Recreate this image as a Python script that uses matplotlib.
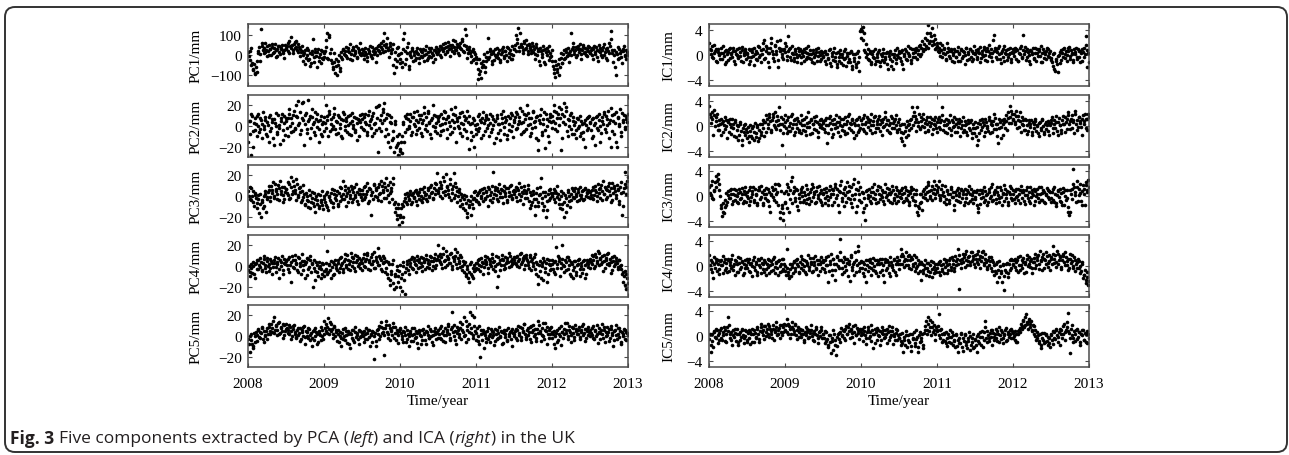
import numpy as np
import matplotlib
matplotlib.use("Agg")
import matplotlib.pyplot as plt
from matplotlib.patches import FancyBboxPatch
from matplotlib.transforms import IdentityTransform

# values, two interleaved samples per step (60 steps per year, 2008-2013)
pc1 = [15, -25, 35, -40, -70, -95, -60, -85, 20, -30, 130, 45, 10, 60, 25, -5, 50, 30, 0, 40, 15, 55, -10, 30, 45, 5, 35, 20, -15, 50,
       30, 60, 10, 45, 90, 25, 55, 35, 70, 15, 40, -5, 20, -30, 10, -45, 0, 25, -20, -55, 5, 80, -35, 15, -60, 30, -10, -40, 20, -20,
       -10, 40, 110, -20, 90, 30, -40, -70, 10, -55, -100, -30, -80, 15, -20, 25, 0, 40, -15, 20, 55, 5, -25, 30, 10, 45, -10, 25, 60, 0,
       10, -20, 35, 5, -30, 20, 45, 0, -15, 30, 15, -35, 25, 50, 10, 40, 70, 110, 20, 55, 35, -10, 60, 25, -50, -90, 15, -30, 40, 5,
       -20, -60, 30, 110, -45, 10, 60, -70, 0, 25, -30, 15, -15, 35, 5, -40, 20, -10, 30, 0, 45, -25, 15, -5, 35, 10, -35, 25, 40, 5,
       15, 45, -10, 30, 55, 5, 40, 20, 65, -5, 35, 50, 10, 70, 25, 40, 0, 60, 30, 80, 15, 130, 45, -15, 25, 10, -35, 30, -20, 5,
       -40, -120, -20, -80, -115, -50, 5, -60, -30, 85, -10, 20, -45, 10, -25, 30, 0, -15, 25, -35, 15, 40, -5, 20, -30, 35, 10, -20, 45, 0,
       30, 100, 60, 135, 20, 55, 40, 10, 70, 35, 50, 5, 45, 25, 60, 15, -20, 40, 0, 30, -50, 20, -10, 45, -45, 15, 35, -25, 10, -5,
       -30, -70, -110, -50, -85, -20, -60, 10, -40, 25, -15, 30, 0, -35, 20, 110, 40, 5, 25, -10, 45, 15, 30, -20, 50, 10, 35, -5, 20, 40,
       10, 35, -20, 45, 5, 25, -30, 50, 15, -10, 40, 0, 30, -25, 20, 60, 120, 10, -35, 25, -100, 5, 40, -15, 20, -40, 30, 0, -20, 15]
pc1b = [-5, 20, -50, -75, -45, -90, -30, 10, 40, 5, 60, 25, 35, 15, 45, 20, 0, 30, 55, 10, 35, 25, -5, 45, 15, 30, 50, 10, 25, 35,
        45, 20, 70, 35, 50, 10, 65, 40, 25, 55, 30, 15, 45, 0, 25, -15, 35, -25, 10, -40, 20, -10, 30, -5, 15, -30, 5, 25, -15, 10,
        20, 75, -15, 100, 10, -25, -60, -35, -90, -20, -50, 0, -65, -10, 30, 5, 20, -5, 35, 15, -20, 25, 40, 0, 20, -15, 35, 15, 5, 30,
        25, 0, 15, -10, 30, 10, -5, 40, 20, 5, 35, 0, 45, 20, 60, 30, 15, 50, 40, 85, 25, 45, 10, 30, 55, -20, -60, 35, 0, -40,
        10, -35, 80, 20, -20, 40, -55, 15, -10, 35, 0, -25, 20, 10, -15, 30, -5, 15, -30, 25, 5, -15, 35, 20, -10, 0, 25, -20, 15, 30,
        25, 0, 40, 20, 35, 60, 15, 45, 30, 50, 20, 75, 40, 25, 55, 10, 45, 35, 70, 20, 50, 100, 30, 10, 40, -5, 20, -25, 15, -10,
        -20, -70, -95, -40, -60, -30, -85, -10, 15, -20, 30, 5, -30, 20, 0, -10, 35, 10, -25, 5, 30, -15, 20, 0, 40, -10, 25, 5, -20, 30,
        50, 20, 80, 40, 110, 45, 25, 60, 30, 75, 20, 55, 35, 10, 45, 30, 5, 55, 20, -30, 35, 5, 25, -35, 30, 0, 20, 45, -10, 25,
        -55, -90, -30, -70, -45, -100, -15, -40, 5, -20, 15, -5, 35, 10, 0, 30, 60, 20, 40, 0, 30, 55, 5, 25, 40, 15, 0, 30, 45, 10,
        25, 0, 30, 15, 40, -10, 20, 35, 0, 25, 55, 15, -15, 35, 10, 45, 80, 25, 0, -60, 15, -20, 30, 10, -10, 20, 45, -5, 25, 0]

pc2 = [-15, 5, -28, 10, -5, 8, 2, -10, 12, -3, 6, -12, 0, 9, -8, 4, -15, 11, -2, 7, -18, 3, 13, -6, 1, -17, 8, -4, 10, -9,
       5, -10, 12, 0, 8, -5, 15, -2, 10, 24, 3, -8, 22, 6, -18, 11, -3, 25, 7, -12, 9, 2, -6, 14, -1, 5, -15, 10, -10, 4,
       -5, 20, 6, -10, 12, 2, -3, 9, 17, -8, 4, 11, -2, 7, -12, 14, 0, 5, -6, 10, 3, -9, 13, 1, -4, 8, -14, 6, 11, -1,
       7, -4, 12, 2, -9, 15, 5, -2, 10, -7, 3, 18, -25, 20, 6, -5, 14, 22, -10, 8, -15, 11, -20, 3, -12, -25, 5, -18, -28, -8,
       -22, -10, 4, -15, 10, -3, 7, 0, 12, -6, 9, 2, -8, 15, 4, -2, 11, -10, 6, 18, 1, -5, 13, 3, -12, 8, 20, -1, 10, -7,
       5, -9, 12, 2, -4, 14, 7, -12, 9, 0, 16, -6, 4, 11, -15, 8, -2, 13, 3, -10, 10, 6, -5, 15, -22, 2, -14, 8, -20, 1,
       -8, 10, -2, 6, -12, 14, 3, -5, 9, 1, -10, 12, -3, 7, -16, 5, 11, -7, 2, -14, 8, 15, -1, 4, -9, 10, -4, 13, 0, -11,
       6, -3, 12, 2, 9, -8, 15, 4, -5, 11, 20, 1, -10, 8, -2, 14, 5, -12, 10, -23, 3, 16, -6, 7, -21, 12, 0, -15, 9, 4,
       10, 20, 3, 14, -5, 18, 8, -23, 12, 22, 2, 15, -10, 6, 11, -3, 9, -8, 4, -12, 7, 0, -10, 5, -6, 3, -20, 8, -2, 10,
       4, -12, 8, 1, -18, 10, -4, 6, -15, 9, 2, 12, -6, 7, 15, 3, -20, 11, 5, -8, 14, -20, 9, 2, -10, 13, 6, -3, 10, 4]
pc2b = [5, -8, 12, -20, 3, -4, 10, 0, -6, 8, 2, 14, -3, 6, -10, 1, 9, -5, 4, -12, 7, 0, -8, 11, -2, 5, 12, -14, 3, 8,
        -2, 8, 16, -6, 3, 11, -3, 20, 9, 1, 14, -4, 8, 23, 2, 13, -7, 5, 10, -2, 16, 4, -9, 7, 12, -3, 6, -8, 2, 9,
        3, -2, 10, 15, -5, 7, 0, 12, -3, 5, -7, 9, 2, -10, 6, 12, -4, 8, 1, -8, 11, 5, -2, 9, -6, 3, 7, -10, 4, 12,
        -3, 9, 4, -6, 11, 1, 7, -10, 13, 2, -4, 8, 19, -2, 11, 3, 16, 6, -3, 12, -8, 4, 9, -14, -5, 2, -20, -10, -16, -24,
        -15, -26, 2, -6, 8, 12, -2, 5, -9, 9, 14, 0, 6, -4, 11, 7, -7, 3, 13, -3, 9, 15, 4, -8, 6, 0, 11, -5, 3, 8,
        10, 1, -5, 8, 15, 3, -3, 10, 4, -8, 6, 12, -2, 18, 5, 0, 9, -7, 14, 2, -3, 8, -12, 4, 10, -6, 3, -10, 6, -3,
        2, -5, 12, 4, 8, -9, 6, 11, -2, 7, 3, -6, 10, 1, 5, -12, 8, 2, -4, 12, 3, -8, 9, 6, -13, 2, 8, -5, 11, 4,
        9, 14, -2, 5, 17, 3, -6, 12, 7, -3, 13, 8, 2, -7, 15, 4, -1, 9, -14, 6, 11, -9, 2, 14, -4, 7, -10, 5, 12, -2,
        5, 15, -3, 8, 12, 1, 16, -12, 4, 10, 18, -5, 7, 0, 13, -8, 5, 1, -4, 8, -2, 10, -7, 2, -13, 6, 1, -4, 9, 3,
        -4, 7, -10, 3, 9, -2, 12, 0, -7, 5, 14, -3, 10, 1, -12, 6, 17, -5, 12, 3, -15, 8, 0, 16, -6, 4, 11, -1, 7, 12]

pc3 = [5, -3, 8, 0, -6, 3, -2, -12, 1, -8, -20, -4, -10, 2, -15, -1, 6, -5, 10, 3, 0, 12, 5, -3, 8, 15, 2, -6, 9, 4,
       7, 1, 12, -2, 18, 5, 10, 3, 16, -1, 8, 4, -4, 11, 2, -8, 0, -5, 6, -12, -2, -7, 3, -15, -4, 2, -10, -6, 5, -13,
       -3, -9, 4, -14, -1, -6, 7, -11, 2, -4, 5, -8, 9, 0, -3, 15, 6, -10, 3, 8, -2, 10, -6, 4, 1, 12, -5, 7, 2, -1,
       6, -3, 10, 2, 13, -5, 7, -18, 4, 11, 0, 8, -4, 12, 3, 15, 6, -2, 9, 17, 1, -6, 14, 5, 17, -8, -15, -22, -12, -28,
       -18, -25, -10, -5, 2, -8, 0, -3, 5, -6, 3, -1, 6, -9, 1, 4, -4, 7, -2, 9, 2, -5, 8, 0, 11, 4, -3, 13, 6, 22,
       3, 14, 8, -2, 18, 5, 21, 10, 2, 12, -4, 7, 22, 1, 9, -6, 4, -10, 2, -8, -3, -14, 0, -20, -9, -5, -18, -12, -2, 5,
       -4, 3, -8, 6, 0, -5, 8, -2, 4, -10, 7, 1, -6, 23, 2, 9, -3, 5, 12, -1, 6, -7, 10, 3, -4, 8, 0, 11, -2, 5,
       2, 9, -5, 6, 13, 0, 4, -8, 10, 3, -2, 7, -12, 1, -6, 5, -18, -3, 8, -10, 2, 17, -7, -14, 4, -20, -5, 6, -2, 3,
       0, 7, -6, 3, 10, -3, -12, 5, -8, -20, 1, -15, 4, -5, -11, 2, 6, -2, 8, 0, 4, -4, 9, 1, 6, -3, 7, 3, -1, 5,
       4, -2, 9, 1, 6, -5, 12, 3, 8, -4, 15, 2, 7, -1, 10, 5, -6, 13, 3, 8, -2, 11, 6, -8, 14, -18, 4, 23, 9, 15]
pc3b = [0, 9, -4, 5, -10, 1, -7, -3, -16, 2, -6, -12, 0, 5, -3, 4, 10, -1, 6, 14, -2, 7, 2, 11, -4, 5, 9, 1, -3, 7,
        3, 14, -3, 9, 2, 15, 6, -4, 12, 1, 9, -6, 5, -1, -9, 3, -4, -11, 1, -6, 4, -10, -3, 0, -8, -12, 1, -4, -9, 0,
        -6, 2, -11, 0, -4, 3, -7, 6, -2, 1, -10, 3, -5, 8, 2, -3, 10, 0, -6, 5, 1, 7, -3, 9, -1, 4, -8, 2, 6, -4,
        2, 9, -1, 5, -7, 8, 1, 4, -3, 12, 6, -1, 9, 2, -5, 10, 4, 13, -2, 6, 11, 3, 8, -3, 12, -6, -12, -18, -8, -20,
        -12, -8, -20, -2, -6, 3, -4, 2, -8, 1, -2, 5, -5, 3, -3, 7, 0, -6, 4, 1, -3, 6, -1, 9, 3, -2, 8, 2, 12, 5,
        8, 0, 11, 4, 15, 1, 9, 6, -1, 16, 3, 10, -2, 13, 5, 0, 7, -4, -1, -12, 1, -7, -16, -4, -11, 0, -8, -3, 4, -5,
        1, -6, 4, -2, 7, 3, -3, 5, 0, 9, -4, 4, 10, -2, 6, 1, 8, -5, 3, 7, -1, 5, 0, 8, -6, 4, 10, 1, -3, 6,
        5, -1, 8, 2, -4, 9, 3, 6, -2, 5, 11, -5, 4, -9, 2, -3, -10, 3, -6, 1, 9, -2, 4, -10, 0, -14, 2, -4, 7, 0,
        3, -3, 5, -1, 2, -8, 0, -13, 3, -6, -2, -9, 6, 0, -4, 8, -1, 5, 2, -5, 7, 1, -2, 5, -4, 8, 0, 4, 6, -2,
        1, 6, -3, 10, 4, 0, 7, -2, 11, 5, 2, 9, -3, 6, 13, 1, 8, -4, 10, 5, 1, 7, -5, 9, 3, -10, 8, 12, 2, 18]

pc4 = [-4, -10, 2, -7, 0, -12, 3, -3, 6, -1, 4, -5, 7, 1, -6, 8, 2, -2, 5, -8, 3, 9, -1, 4, -12, 6, 0, -4, 7, 2,
       5, -3, 9, 1, -15, 6, -2, 11, 3, -6, 8, 0, 12, -4, 5, 2, -9, 7, -1, 10, 3, -20, 6, -5, 1, -10, 4, -3, -8, 2,
       -10, -3, 15, -6, 2, -12, -1, 4, -8, 1, -4, 6, -2, 9, 3, -6, 7, 1, 11, -3, 5, 13, 0, 8, -5, 4, 10, 2, -2, 6,
       3, 12, -1, 7, 13, 4, -4, 9, 2, 14, -2, 6, 17, 1, 8, -3, 10, 4, -6, 5, -12, 2, -18, -8, 6, -22, -10, 0, -15, -5,
       -20, -8, 4, -14, -27, 2, -4, 6, 0, 9, -3, 5, 1, 10, -2, 7, 3, -5, 8, 4, 11, -1, 6, 2, 9, -4, 5, 12, 1, 7,
       20, 4, 9, -2, 12, 6, 15, 1, 8, 3, 13, -3, 7, 10, 2, 14, 5, -1, 9, 0, -6, 4, -10, -3, -15, 2, -8, -12, 1, -4,
       -2, 6, 1, -5, 8, 3, -1, 10, 4, -7, 7, 2, 12, -3, 5, 0, -20, 9, 3, -4, 11, 6, 1, -2, 8, 4, 13, 0, 7, 3,
       6, 2, 10, 5, -1, 13, 4, 8, -3, 11, 6, 1, 9, -4, 7, 3, 12, -8, 2, -17, 5, -12, 0, 8, -6, 3, -15, 6, 1, -3,
       2, -6, 5, 18, -2, 8, -10, 3, 20, 0, 6, -4, 9, 1, -8, 4, -12, -1, 5, -6, 2, 7, -10, 0, -3, 6, -12, 3, -1, 5,
       7, 2, 10, -2, 12, 5, 15, 1, 8, 4, -5, 11, 6, 2, 13, 3, -7, 9, 5, 0, 8, 3, -3, 6, 1, -8, -15, -5, -22, -12]
pc4b = [0, -6, -2, 4, -8, 2, 6, -3, 1, 8, -4, 3, 10, -2, 5, 0, -5, 7, 3, -1, 6, -6, 2, 8, -3, 4, 10, -8, 3, 6,
        1, 7, -6, 4, 10, -1, 6, 2, -4, 9, 3, -8, 5, 1, -12, 4, 8, -3, 6, -6, 2, -2, -14, 4, -6, -2, 0, -12, 3, -5,
        -5, 3, -8, 1, -4, 5, -9, 2, 6, -2, 3, -6, 8, 1, -3, 5, 12, -1, 6, 2, -4, 9, 4, -2, 11, 6, 0, 8, 3, -4,
        8, 0, 5, 11, -3, 6, 2, 12, 5, -2, 9, 4, 1, 10, 6, -5, 3, 8, -2, -8, 4, -14, -5, 2, -16, -8, -20, -4, -10, 1,
        -12, -24, 0, -6, -2, 5, -8, 3, 7, -2, 8, 2, -6, 6, 4, -1, 9, 0, 5, -3, 7, 3, -2, 10, 5, 0, 8, -2, 6, 10,
        6, 12, 2, 17, 5, -1, 10, 7, 3, 12, 0, 9, 5, 16, -2, 8, 3, 11, -4, 5, 2, -8, 0, -12, -6, 4, -10, -2, -5, 3,
        3, -3, 7, 0, 4, -8, 6, 2, 9, -2, 5, 0, 8, 4, -5, 10, 2, -10, 6, 1, 7, -3, 9, 3, 5, -1, 10, 5, 2, 9,
        3, 9, 0, 7, 12, 2, 6, 10, 1, 8, 4, -2, 11, 5, 0, 9, -3, 4, -10, 1, -5, 3, -14, 5, -2, 7, -8, 2, -4, 6,
        -3, 4, -8, 2, 10, 5, -2, 7, 1, -6, 4, 9, -3, 6, -10, 2, -4, 5, -9, 1, 6, -3, 3, -7, 5, 1, -8, 6, 2, -2,
        4, 11, 6, 0, 9, 3, 13, 7, 2, 10, 5, -2, 8, 12, 1, 7, 4, -4, 10, 2, 5, -1, 6, 0, -3, -6, -10, -18, -8, -16]

pc5 = [-3, -15, 2, -8, -12, 0, 4, -5, 7, -2, 3, 8, -6, 1, 5, -3, 9, 2, 12, 4, 18, 6, 10, 1, 14, 3, 8, -2, 11, 5,
       12, 6, 2, 9, -3, 7, 11, 4, -1, 8, 3, -5, 6, 0, 10, -8, 4, -2, 7, 1, -10, 5, -4, 8, 2, -6, 3, 9, 0, -3,
       15, 5, 9, 17, 2, 12, 7, -2, 10, 4, -5, 6, 0, -10, 3, -3, 8, 1, -7, 5, -12, 2, 6, -4, 9, -1, 3, -8, 5, 0,
       4, -6, 2, 8, -3, 6, -10, 1, 5, -22, 3, -5, 7, 10, 0, 14, 4, -18, 8, 15, 2, 11, -4, 6, 13, -2, 9, 3, -7, 5,
       7, 0, -6, 4, 9, -3, 2, -10, 5, 1, -5, 8, -1, 3, -12, 6, 0, -4, 7, 2, -8, 4, 10, -2, 5, -6, 1, 8, -3, 3,
       6, -2, 10, 3, -5, 8, 1, 4, 12, -4, 7, 23, 0, 5, -8, 9, 2, 14, -3, 6, 18, 1, -6, 10, 4, 23, 8, -2, 18, 5,
       3, -5, 10, -20, 2, 6, -12, 4, -2, 8, 0, -6, 5, 1, -9, 7, -3, 3, 9, -1, 4, -7, 6, 2, -4, 8, 0, 5, -10, 3,
       2, 7, -4, 10, 3, -1, 8, 5, 12, -3, 6, 1, 9, -6, 4, 11, 2, -2, 7, 15, 3, -5, 8, 0, 13, 5, -8, 6, 2, 9,
       -2, 5, -12, 3, -6, 8, 0, -9, 4, 2, 13, 6, -3, 10, 4, 1, 8, -4, 11, 5, 2, 9, -1, 6, 12, 3, -5, 7, 1, 4,
       6, 1, 10, -3, 5, 2, -7, 8, 3, 12, -2, 6, 0, 9, 4, -5, 7, 1, -10, 5, 11, -3, 2, 8, -6, 4, 0, 6, -4, 3]
pc5b = [-8, 0, -4, -10, 3, -6, 1, 6, -1, 4, 9, -3, 5, 0, 8, 2, 12, 5, 8, 15, 3, 11, 6, 13, 2, 9, 5, 12, 1, 7,
        8, 3, 11, 5, 0, 10, 2, -2, 6, 1, 8, -3, 4, 9, -1, 5, 0, 8, -4, 3, -2, 6, 0, 4, -8, 5, 1, -4, 6, 2,
        8, 12, 3, 7, 14, 5, 2, 9, 0, 6, 2, -6, 4, -2, 7, 0, -4, 5, 2, -8, 3, -2, 6, -6, 4, 1, -3, 6, -1, 3,
        0, 5, -3, 3, 6, -1, 2, -6, 4, 0, -10, 6, 2, -3, 9, 3, 8, 1, 11, 4, -2, 8, 5, 1, 9, 3, -4, 6, 1, 8,
        3, -3, 5, 1, -6, 6, 0, 3, -5, 8, 2, -2, 5, -7, 4, 1, -8, 6, 3, -4, 5, 1, -2, 7, 0, -9, 5, 2, 4, -2,
        2, 8, -3, 5, 1, -6, 6, 10, 2, -2, 9, 4, 11, -4, 3, 6, -1, 8, 12, 4, 0, 15, 6, -3, 12, 3, 20, 1, 10, -4,
        8, 0, -8, 6, -4, 3, 1, -6, 5, -3, 2, 7, -1, 4, -5, 2, 6, -2, 0, 5, -8, 3, -1, 6, -5, 2, 4, -3, 7, 0,
        5, -2, 6, 1, 9, -4, 4, 12, 2, -1, 8, 4, -3, 10, 6, 0, 7, -5, 3, 11, 5, 1, 13, -3, 6, 9, 2, -2, 8, 4,
        2, -8, 0, 6, -4, 2, 10, 4, -2, 7, 3, 13, 0, 6, -6, 9, 3, -1, 7, 2, 6, -3, 4, 10, 1, 7, -2, 5, 9, 0,
        3, 8, -2, 6, 0, 11, 4, -3, 6, 2, 9, -6, 4, 1, 7, -2, 10, 3, -4, 6, 1, 8, -1, 5, -8, 2, 7, -3, 4, 1]

ic1 = [2.0, 0.8, 1.5, -0.5, 0.3, 1.0, -1.2, 0.5, 0.0, 1.2, -0.6, 0.4, -1.5, 0.8, 0.1, -0.8, 1.1, 0.3, -0.3, 0.7, -1.4, 0.2, 0.9, -0.5, 0.5, -1.0, 1.3, 0.0, 0.6, -0.7,
       0.4, -1.5, 0.8, -0.3, 1.0, -1.6, 0.2, 0.7, -0.8, 1.3, 0.0, -1.2, 0.9, 2.4, -0.5, 1.5, 0.3, -2.0, 1.1, 2.8, 0.1, -1.0, 1.6, 0.6, -2.0, 1.2, 2.5, 0.2, -0.6, 1.0,
       0.5, -0.8, 3.0, 0.9, -0.3, 1.4, 0.2, -1.0, 0.7, -0.4, 1.2, 0.0, -1.3, 0.6, -0.2, 1.0, -0.7, 0.4, 1.5, -0.5, 0.1, -1.1, 0.8, -0.3, 0.5, -0.9, 1.1, 0.0, -0.6, 0.3,
       -0.2, 0.6, -1.4, 0.2, -0.7, 0.9, -1.8, -0.1, 0.5, -1.0, 0.3, -2.0, -0.4, 0.8, -1.3, 0.1, -0.6, 1.0, -1.7, -0.2, 0.4, -1.1, 0.7, -2.2, -0.5, 0.2, -1.5, 0.6, -2.5, 3.8,
       4.2, 2.5, 3.5, 0.5, -0.3, 1.0, -0.8, 0.3, -1.2, 0.6, -0.5, -1.5, 0.2, -0.9, 0.8, -1.8, -0.2, 0.4, -1.2, -0.6, 0.5, -2.3, -0.1, 0.7, -1.0, -2.2, 0.2, -0.7, 1.2, -0.4,
       0.3, -1.0, 0.8, -2.3, -0.2, 0.6, -0.8, 1.5, 0.0, -1.3, 0.9, -0.4, 0.5, 1.2, -0.6, 0.8, 1.6, 0.2, 2.2, 1.0, 2.8, 1.5, 3.5, 4.9, 2.3, 3.0, 4.4, 1.8, 2.6, 1.2,
       1.5, 0.5, 2.0, 0.8, -0.3, 1.2, 0.2, -0.8, 2.0, 0.6, -0.5, 1.0, 0.0, -1.2, 0.7, -0.3, 1.3, 0.3, -0.9, 0.8, -0.2, 0.5, -1.4, 1.1, 0.1, -0.6, 0.9, -1.0, 0.4, 1.5,
       0.2, -0.7, 1.0, 0.4, -1.2, 0.7, -0.2, 1.3, 0.0, -0.9, 0.6, 1.6, -0.4, 0.3, 2.5, 3.3, 0.8, -0.6, 1.1, 0.2, -1.3, 0.7, -0.3, 1.4, 0.1, -0.8, 0.9, 0.4, -1.1, 0.5,
       0.3, 1.2, -0.6, 0.8, -1.0, 0.2, 1.5, -0.3, 3.3, 0.6, -0.8, 1.0, 0.0, -1.4, 0.7, 0.3, -0.5, 1.2, -0.9, 0.4, 0.9, -0.2, 1.4, -1.1, 0.5, 0.1, -0.7, 1.0, -0.4, 0.6,
       -0.5, -1.8, 0.3, -2.5, -1.0, -2.8, 0.0, -1.3, 0.8, -0.4, 1.1, 0.2, -0.9, 0.6, 1.3, -0.2, 0.4, -1.2, 0.9, 0.1, -0.6, 1.0, -0.3, 0.7, -1.0, 0.5, 1.2, 3.0, -2.0, 0.4]
ic1b = [1.0, 0.2, -0.4, 1.6, 0.6, -1.0, 0.9, 0.1, -0.6, 0.4, 1.4, -0.2, 0.7, -1.1, 0.5, 1.0, -0.5, 0.2, 1.2, -0.9, 0.6, 0.0, -0.4, 1.1, -0.2, 0.8, -1.2, 0.3, 1.0, 0.1,
        -0.4, 0.9, -1.0, 0.5, -0.2, 1.1, -0.7, 0.4, 1.5, -0.3, 0.8, 0.2, 1.9, -0.6, 0.7, 1.2, -1.2, 0.4, 2.0, 0.6, -0.5, 1.4, 0.1, 2.2, -0.8, 0.6, 1.0, -0.4, 0.8, 2.0,
        1.5, -0.2, 0.7, 1.2, -0.8, 0.4, -0.5, 0.9, 0.1, -1.1, 0.6, 1.0, -0.3, 0.3, -0.9, 0.5, 1.2, -0.4, 0.2, 0.8, -0.6, 0.4, -1.3, 0.0, 1.0, -0.2, 0.5, -1.0, 0.7, -0.4,
        0.5, -1.0, 0.1, -0.5, 0.8, -1.3, 0.3, -0.8, 1.2, -0.4, -1.5, 0.5, -0.9, 0.2, -0.3, -1.6, 0.7, -0.5, 0.3, -1.2, -0.6, 0.5, -1.8, 0.1, -1.0, -2.0, 0.4, -1.2, -0.4, 2.8,
        3.8, 4.5, 0.8, 1.8, 0.2, -0.6, 0.6, -1.4, 0.1, -0.3, 0.9, -1.0, -0.4, 0.5, -1.2, 0.2, -0.8, 0.9, -0.3, 0.3, -1.5, 0.4, -0.7, -1.8, 0.2, -0.4, 0.8, -1.3, 0.0, 0.6,
        -0.5, 0.5, -1.4, 0.2, 1.0, -0.7, 0.3, -0.2, 1.1, -0.8, 0.4, 1.0, -0.3, 0.8, 0.1, 1.4, -0.2, 1.1, 0.6, 1.8, 0.9, 2.4, 1.2, 2.0, 3.6, 1.6, 2.2, 3.2, 1.0, 2.0,
        0.6, 1.2, -0.2, 1.6, 0.4, 0.9, -0.6, 0.5, 1.1, -0.2, 0.7, -0.9, 0.4, 0.9, -0.4, 0.6, -1.0, 0.2, 1.0, -0.5, 0.7, 0.0, 1.2, -0.8, 0.5, 1.0, -0.3, 0.6, -0.6, 0.3,
        0.8, -0.3, 0.5, 1.3, -0.5, 0.2, 1.0, -0.8, 0.6, 1.1, -0.2, 0.4, 0.9, -1.0, 0.7, 1.2, -0.3, 0.5, 1.5, -0.7, 0.3, 1.0, -1.0, 0.4, 0.8, -0.4, 0.2, 1.2, -0.6, 0.9,
        -0.2, 0.7, 1.0, -0.9, 0.4, 1.2, -0.5, 0.8, 0.1, 1.3, -0.4, 0.5, -1.0, 0.8, 0.2, 1.1, -0.6, 0.3, 0.9, -0.2, 0.6, -1.2, 0.4, 1.0, -0.5, 0.7, 1.2, -0.2, 0.3, -0.8,
        -1.2, 0.2, -2.2, -0.6, -1.5, -0.2, 0.5, -0.8, 0.3, 1.0, -0.5, 0.7, 0.0, 1.1, -0.6, 0.8, 0.2, -0.8, 0.5, 1.2, -0.3, 0.6, -1.2, 0.4, 0.9, -0.4, 0.2, 1.6, 0.8, -1.2]

ic2 = [3.2, 1.5, 2.2, -1.5, 1.8, 0.8, 2.0, 0.2, -0.6, 1.2, 0.5, -1.0, 1.5, 0.0, -2.0, 0.9, 0.3, -1.3, 1.1, -0.4, 0.6, -1.8, 0.2, -2.2, 0.4, -0.8, -3.0, 0.1, -1.5, -0.5,
       -1.0, -2.5, 0.2, -1.6, -0.4, -2.2, 0.5, -1.2, -0.2, -2.0, 0.3, -0.9, 1.0, -1.6, 0.6, 1.8, -0.3, 2.0, 0.8, -1.0, 1.4, 0.2, 2.2, -0.5, 1.0, 3.0, 0.4, -3.0, 1.2, 0.0,
       0.6, -1.2, 1.5, 0.0, -0.8, 2.0, 0.4, -1.4, 1.1, -0.3, 0.8, -1.0, 1.7, 0.2, -0.6, 1.2, -1.5, 0.5, 2.2, -0.2, 0.9, -1.1, 0.3, 1.4, -0.7, 0.6, -1.8, 1.0, 0.1, -0.4,
       0.8, -1.0, 1.3, -2.7, 0.2, 1.6, -0.5, 0.9, -1.3, 0.4, 1.8, -0.2, 0.7, -1.6, 1.1, 0.0, -0.8, 1.5, 0.3, -1.2, 2.0, 0.5, -0.6, 1.2, -2.0, 0.2, 0.9, -1.0, 1.4, -0.3,
       1.0, -0.5, 1.8, 0.3, -1.2, 1.2, 0.6, -0.7, 2.0, 0.1, 1.4, -1.0, 0.8, -0.3, 1.6, 0.4, -1.4, 1.1, 0.0, 2.2, -0.6, 0.9, 0.2, -1.1, 1.3, 0.5, -0.4, 1.7, -0.9, 0.7,
       -0.5, -2.0, 0.3, -1.2, -3.0, -0.2, 0.8, -1.5, 0.4, 1.2, 3.0, 0.2, 1.6, -0.8, 3.0, 0.6, -0.3, 1.4, 0.0, 2.0, -1.0, 0.9, 0.3, -0.6, 1.5, 0.5, -1.3, 1.0, 0.1, -0.4,
       0.7, 1.5, -0.5, 0.9, 3.0, 0.2, -1.0, 1.2, 0.4, -0.3, 1.8, -1.4, 0.6, 0.0, -0.9, 1.1, -0.2, 0.5, -1.6, 0.8, 1.4, -0.6, 0.2, -1.0, 1.0, -0.3, 0.6, -2.0, 0.3, -1.2,
       -0.4, -3.0, 0.5, -1.2, 1.0, -0.2, 0.7, -1.6, 1.2, 0.0, -0.8, 1.5, 0.3, -1.0, 0.8, 2.0, -0.5, 0.4, -2.7, 1.1, -0.2, 0.9, -1.5, 0.6, 1.8, -0.7, 1.3, 3.2, 0.5, 2.0,
       1.2, 0.3, 2.5, -0.4, 1.6, 0.8, -1.0, 1.4, 0.2, -0.6, 1.0, -1.3, 0.5, -0.2, 0.9, -1.5, 0.3, 1.2, -0.8, 0.0, -1.6, 0.6, -0.3, 1.1, -1.0, 0.4, -0.5, 0.8, -1.4, 0.2,
       0.5, -1.1, 1.0, -0.3, 0.7, -1.5, 1.3, 0.2, -0.6, 1.6, 0.4, -0.9, 1.1, 2.2, 0.3, -0.5, 1.8, 0.6, -1.2, 2.0, 0.9, -0.2, 1.4, 0.5, -1.4, 1.7, 0.8, -0.4, 1.2, 2.0]
ic2b = [2.0, 0.5, 1.2, 2.6, 0.0, 1.4, -0.6, 1.0, 0.4, -1.4, 0.8, 0.2, -0.5, 1.0, 0.6, -1.0, 1.2, -0.2, 0.4, -1.6, 0.9, -0.6, 0.0, -1.4, 0.6, -2.2, -0.4, -1.0, 0.3, -2.0,
        -0.2, -1.6, -0.8, -2.0, 0.0, -1.0, -1.8, 0.2, -2.4, -0.6, -1.4, 0.4, -0.4, 0.6, -1.0, 1.2, 0.3, 1.5, -0.6, 1.0, 2.0, -0.2, 0.8, 1.6, 0.2, -0.6, 1.5, 0.4, -1.2, 1.8,
        -0.3, 1.0, -0.8, 0.5, 1.6, -0.4, 0.9, -1.0, 0.3, 1.3, -0.6, 0.5, -1.2, 1.0, 0.1, -0.8, 1.4, -0.2, 0.6, -1.3, 1.2, 0.4, -0.5, 0.8, 1.6, -1.0, 0.3, -0.2, 1.1, 0.5,
        -0.5, 1.0, 0.2, -1.2, 1.3, 0.5, -1.8, 0.3, 1.1, -0.4, 0.6, -1.0, 1.5, 0.2, -0.6, 1.2, 0.4, -1.3, 0.8, 1.6, -0.4, 0.3, 1.0, -0.9, 0.5, -1.5, 1.2, 0.2, -0.7, 0.9,
        0.4, 1.3, -0.8, 0.6, 1.5, -0.2, 1.0, 0.2, -1.2, 0.8, 1.6, -0.4, 0.4, 1.2, -0.8, 1.0, 0.6, -0.2, 1.4, 0.3, 1.0, -1.0, 0.5, 1.6, -0.3, 0.8, 1.2, 0.2, -0.6, 1.1,
        0.2, -1.0, -2.4, 0.4, -0.8, -1.8, 0.2, -0.6, 1.0, -0.3, 1.6, 2.2, 0.6, 1.2, 0.0, 2.0, -0.5, 0.8, 1.2, -0.2, 0.5, 1.4, -0.8, 0.6, 0.0, 1.2, -0.5, 0.4, 1.4, -0.9,
        1.2, -0.2, 0.6, 1.8, -0.6, 0.8, 0.2, -1.2, 1.0, 0.6, -0.6, 0.9, -0.2, 1.4, 0.4, -1.0, 0.6, 1.2, -0.4, 0.2, -1.0, 0.8, 0.4, -1.4, 0.5, -0.6, 1.0, -1.2, -0.4, 0.6,
        -1.6, -0.2, -2.2, 0.4, -0.6, 1.2, 0.2, -1.0, 0.6, -0.4, 1.0, -1.2, 0.8, 0.2, -0.5, 1.3, 0.4, -1.6, -0.4, 0.6, -2.0, 0.3, 1.2, -0.4, 0.8, 2.2, 0.5, 1.5, 2.5, 1.0,
        2.0, 0.6, 1.6, 1.0, -0.2, 2.2, 0.4, 0.9, -0.6, 1.2, 0.2, -0.8, 1.0, 0.4, -1.0, 0.6, -0.4, 0.8, 0.2, -1.2, 0.5, -0.6, 0.9, 0.0, -1.3, 0.7, 0.2, -0.8, 0.5, 1.0,
        1.4, -0.3, 0.4, 1.6, -0.8, 0.6, 0.2, -1.2, 1.0, 0.3, 1.5, 0.6, -0.5, 1.8, 0.8, 1.2, -0.3, 1.0, 2.4, 0.3, -0.6, 1.5, 0.8, -0.2, 1.1, 0.4, 2.0, 1.2, -0.6, 1.4]

ic3 = [1.5, 0.2, 2.5, -0.5, 1.0, 3.2, 2.5, 3.5, 2.0, -1.5, -3.2, -2.5, -1.8, 0.5, -1.0, 0.8, -0.3, 1.2, -1.3, 0.4, -0.6, 1.0, 0.0, -1.2, 0.7, -0.4, 1.3, -0.8, 0.3, -1.0,
       0.6, -1.4, 1.5, -0.2, 0.8, -1.0, 1.2, 0.1, -1.5, 0.9, -0.5, 1.6, -1.1, 0.4, -0.3, 1.3, -0.8, 0.7, -2.6, 0.2, 1.0, -0.6, 2.0, 0.3, -1.5, 1.8, -3.5, -2.0, -3.8, 0.5,
       -1.2, 2.0, 0.3, -2.5, 1.0, 3.0, 0.5, 1.5, -0.8, 0.9, -2.2, -0.4, 1.2, 0.0, -1.0, 0.7, 1.8, -0.5, 0.4, -1.3, 1.1, 2.0, -0.2, 0.6, -0.9, 1.4, 0.2, -0.6, 1.0, -1.5,
       0.5, -1.1, 1.3, 0.0, -0.7, 1.6, 0.3, -1.4, 0.9, 2.0, -0.4, 1.1, -2.5, 0.6, 2.5, -0.8, 1.2, 0.2, -1.0, 2.2, 0.8, -0.5, 1.5, -1.8, 2.8, 0.3, -2.5, 1.0, -0.6, 1.4,
       -1.0, 0.5, -2.0, -3.8, 0.8, -0.3, 1.2, 0.0, -1.1, 0.7, 2.0, -0.5, 1.0, -0.9, 0.4, 1.5, -0.2, 0.6, -1.3, 1.9, 0.1, -0.7, 1.1, 0.3, -1.2, 0.9, -0.4, 1.4, 0.0, -0.8,
       0.8, -0.3, 1.3, -1.0, 0.5, 1.0, -0.6, 0.2, -1.4, 0.9, -0.2, 1.2, -0.8, 0.4, -2.5, -3.0, -1.2, 0.3, -2.2, 0.8, -0.4, 1.5, 0.6, 2.2, 0.0, 1.0, -0.7, 2.5, 0.4, 1.8,
       0.6, 2.5, -0.3, 1.2, 0.2, -0.9, 1.6, -0.5, 0.8, -1.2, 0.4, 1.1, -0.2, -2.2, 0.7, -0.6, 1.3, 0.0, -1.0, 0.9, 0.3, -1.4, 1.2, -0.4, 0.6, 1.6, -0.8, 0.2, -1.1, 0.8,
       -0.5, 1.0, -2.5, 0.3, -1.3, 0.9, -0.2, 1.5, -0.7, 0.4, -1.0, 1.2, 0.0, 2.0, -0.6, 0.7, -1.2, 1.4, 0.2, -0.4, 1.0, -1.5, 0.5, 1.8, -0.3, 0.8, -1.0, 0.3, 1.3, -0.6,
       0.4, -1.1, 1.2, 0.0, -0.7, 0.9, 1.6, -0.4, 0.6, -1.3, 1.0, 0.2, -0.8, 1.4, -0.2, 0.5, -1.5, 0.8, 0.0, 1.1, -0.9, 0.3, 1.5, -0.6, 0.7, -1.2, 0.2, 1.0, -0.5, 0.6,
       -0.3, 1.2, -1.0, 0.4, -1.6, 0.8, -0.2, 1.1, -1.0, 0.6, -1.5, 0.9, -0.3, -2.5, -3.0, 1.0, -0.5, 4.3, 1.5, 0.2, 2.5, -0.8, 1.2, 0.5, -1.4, 1.8, 0.3, 2.2, 1.0, 2.6]
ic3b = [0.5, 1.8, -0.4, 0.8, 2.2, 1.4, 2.8, 1.0, 0.0, -2.0, -1.2, -2.8, -0.6, -1.4, 0.2, -0.4, 1.0, 0.3, -0.8, 1.1, 0.2, -1.0, 0.5, 1.2, -0.5, 0.3, -1.2, 0.8, 1.4, 0.0,
        -0.4, 1.0, -0.8, 0.4, 1.4, -0.6, 0.3, -1.2, 0.9, 1.4, -0.2, 0.6, -1.4, 1.0, 0.3, -0.6, 1.2, -1.6, 0.4, 1.5, -0.2, 1.2, -1.0, 0.6, 2.0, -2.6, 0.8, -1.4, -2.8, -1.0,
        0.8, -2.0, 1.5, -0.5, 2.4, -1.2, 0.8, -0.4, 1.2, -1.6, 0.3, -0.9, 0.6, 1.4, -0.6, 0.2, -1.2, 1.2, -0.3, 0.6, -0.8, 1.5, 0.4, -1.1, 0.8, -0.3, 1.6, 0.5, -0.9, 0.4,
        1.2, -0.4, 0.6, -1.5, 0.9, -0.2, 1.2, 0.4, -0.9, 1.5, 0.2, -1.5, 0.8, 1.8, -0.3, 0.5, -1.6, 1.4, 0.6, -0.4, 1.6, -1.2, 0.2, 2.0, -0.5, 1.2, -1.6, 2.2, 0.4, -1.0,
        0.6, -2.6, -0.4, -1.5, 1.0, 0.2, -0.8, 0.6, 1.4, -0.3, 0.4, -1.2, 0.9, 1.6, -0.5, 0.2, 1.0, -0.8, 0.6, -0.2, 1.3, 0.5, -1.0, 0.7, 1.6, -0.6, 0.3, -1.2, 1.0, 0.5,
        -0.2, 1.0, 0.3, -0.8, 1.5, -0.4, 0.8, -1.0, 0.5, 1.4, -0.6, 0.3, -1.4, 1.0, -1.6, -2.0, 0.4, -1.0, -0.2, 1.2, 0.4, -0.6, 1.8, 0.8, -0.3, 1.6, 0.5, 1.2, -0.4, 1.0,
        1.4, 0.2, -0.6, 1.8, 0.6, 0.0, -1.3, 1.0, 0.3, -0.6, 1.4, -0.2, 0.6, -1.4, 0.2, 1.0, -0.8, 0.5, 1.2, -0.4, 0.8, -0.9, 0.3, 1.0, -1.2, 0.4, 1.2, -0.5, 0.6, -0.2,
        0.6, -1.4, -2.0, 1.0, -0.4, 0.5, -1.0, 0.8, 0.2, -1.4, 0.6, -0.3, 1.5, -0.8, 0.3, 1.0, -0.5, 0.6, -1.0, 1.4, -0.2, 0.4, -0.8, 1.1, 0.4, -1.4, 0.7, 1.6, -0.3, 0.9,
        -0.5, 0.8, -0.2, 1.2, 0.4, -1.2, 0.6, 1.0, -0.8, 0.2, 1.5, -0.4, 0.7, -1.1, 0.9, 0.1, 1.2, -0.8, 0.4, -0.3, 1.4, -0.6, 0.5, 1.0, -1.0, 0.3, 1.3, -0.2, 0.8, -0.9,
        0.6, -0.6, 1.5, -1.2, 0.2, 1.0, -0.8, 0.5, -1.4, 1.3, 0.0, -0.6, 0.9, -1.8, -2.6, 0.4, 1.2, 2.0, 0.6, -1.0, 1.5, 0.2, 2.0, -0.8, 0.8, 1.2, -1.5, 1.8, 0.6, 1.5]

ic4 = [1.8, -0.5, 0.6, -2.0, 0.3, 1.2, -0.8, 0.4, -1.3, 0.9, 0.1, 1.6, -0.6, 0.5, -1.0, 1.1, 0.2, -0.4, 1.8, 0.0, -1.5, 0.8, 0.3, -0.9, 1.3, -0.2, 0.6, -1.2, 1.0, 0.2,
       -0.3, 1.2, -1.0, 0.5, 0.0, 1.5, -0.7, 0.3, -1.4, 0.9, -0.2, 1.3, 0.4, -0.9, 0.7, -0.5, 1.1, -1.2, 0.2, 0.8, -0.6, 1.4, -0.1, 0.5, -1.5, 0.9, 0.0, -0.8, 1.2, 0.3,
       -0.8, 2.8, -1.5, -2.0, -0.5, 0.4, -1.2, 0.8, -0.3, 1.2, 0.0, -0.9, 1.6, 0.3, -0.6, 1.0, -1.3, 0.5, 1.8, -0.2, 0.7, -1.0, 1.3, 0.1, -0.5, 0.9, -1.4, 0.4, 1.5, -0.3,
       0.6, -1.0, 1.4, 0.2, -2.5, 0.8, 2.0, -0.6, 1.1, -2.2, 0.4, 1.6, -0.4, 4.3, 0.9, -1.3, 1.5, 0.0, -0.7, 1.2, 0.3, -2.4, 1.8, -0.2, 0.6, 2.3, -1.0, 3.2, 0.5, -0.3,
       0.8, -1.2, 0.3, -0.5, -2.5, 1.0, -0.2, 0.6, -1.4, 1.3, 0.0, -0.8, 0.9, -1.6, 0.4, 1.1, -0.6, 0.2, -2.5, 1.2, -0.3, 0.7, -1.1, 1.5, 0.1, -0.7, 0.9, -1.5, 1.4, 0.3,
       1.0, 2.8, 0.4, 1.6, -0.2, 2.2, 0.9, 0.1, 1.8, -0.5, 1.2, 0.4, -0.8, 1.5, 0.0, -1.2, 0.7, -2.2, 0.3, -0.6, 1.0, -1.4, -0.3, 0.5, -1.0, 0.8, -1.8, -0.2, 0.4, -0.9,
       -0.4, 0.6, -1.5, 0.2, -0.8, 1.2, -0.2, 0.7, -1.1, 0.4, 1.3, -0.6, 0.9, -0.3, 1.6, 0.2, 2.8, -3.7, 1.0, 0.5, 2.0, 1.4, -0.2, 2.5, 0.8, 1.6, 0.1, 2.2, 1.1, 0.4,
       1.8, 0.6, 2.5, 1.2, -0.3, 1.5, 2.4, 0.5, 1.9, -0.5, 1.0, 0.2, 1.4, -0.8, 0.6, -1.5, 0.3, -2.5, -0.6, 0.8, -1.2, -2.5, 0.2, -3.8, -1.0, 0.5, -1.8, 0.9, -0.4, 1.0,
       0.3, 1.2, -0.6, 0.9, -1.0, 1.6, 0.2, -0.4, 1.3, 0.6, -0.9, 1.8, 0.4, -0.2, 1.1, -1.2, 0.7, 2.0, 0.1, 1.4, -0.5, 2.5, 0.8, 1.5, -0.3, 1.0, 2.2, 0.5, 1.7, -0.6,
       1.2, 3.2, 0.5, 1.8, -0.2, 2.0, 0.9, 1.4, -0.5, 1.6, 0.6, 2.2, 0.2, 1.1, -0.4, 1.9, 0.8, 0.0, 1.5, -0.8, 0.6, 1.2, -0.3, -1.2, 0.4, -2.0, -1.5, -2.8, -1.0, -3.0]
ic4b = [0.2, 1.0, -1.0, 1.4, -0.3, 0.6, 1.0, -0.5, 0.8, 0.2, -1.1, 0.6, 1.2, -0.4, 0.9, -0.8, 0.6, 1.2, -0.6, 0.4, 1.0, -1.0, 1.4, 0.5, -0.5, 0.8, -1.4, 0.4, -0.3, 1.2,
        0.6, -0.8, 0.4, -1.6, 0.9, -0.2, 0.6, -1.0, 1.1, 0.2, -1.2, 0.5, -0.5, 0.9, -1.4, 0.4, -0.2, 1.0, -0.8, 0.4, 1.2, -1.2, 0.6, -0.4, 0.8, -0.9, 0.4, 1.1, -0.5, 0.0,
        -1.4, -0.3, -1.0, 0.4, -1.6, -0.2, 0.6, -0.8, 1.0, 0.3, -1.2, 0.6, -0.4, 1.2, 0.0, -1.0, 0.8, 0.2, -0.6, 1.3, 0.4, -0.8, 0.6, 1.6, -0.3, 0.4, 0.9, -0.8, 0.6, 1.0,
        -0.5, 0.9, 0.2, 1.6, -0.8, 0.3, -1.5, 1.2, 0.4, -0.6, 1.4, 0.0, 1.0, 2.2, -0.4, 0.6, -1.0, 1.1, 0.5, -1.6, 0.8, 1.4, -0.6, 0.4, -1.4, 1.0, 0.2, 2.4, -0.8, 0.6,
        -0.4, 0.6, -1.6, 1.0, 0.2, -0.8, 1.2, -0.4, 0.5, -0.6, 1.0, -1.2, 0.3, 0.8, -1.0, 0.5, 1.2, -1.4, 0.6, -0.6, 1.0, 0.2, -1.6, 0.6, -0.2, 1.2, -1.0, 0.4, 0.8, -0.5,
        0.4, 1.6, 2.0, 0.8, 1.2, 0.2, 1.6, -0.4, 0.9, 1.4, 0.0, 1.8, 0.5, -0.3, 1.0, 0.4, -0.8, 0.6, -1.2, 0.2, -0.4, 0.5, -0.8, -1.6, 0.2, -0.5, 0.6, -1.2, -0.6, 0.3,
        0.3, -1.0, 0.8, -0.5, 0.4, -1.2, 1.0, 0.1, -0.6, 0.9, -0.2, 1.5, 0.3, -0.8, 0.8, 1.2, 0.4, 1.8, -0.4, 1.2, 0.6, 2.0, 1.0, 0.2, 1.5, 0.6, 2.2, 0.8, 1.6, -0.2,
        1.2, 2.0, 0.4, 1.6, 0.8, 2.2, 0.2, 1.2, 0.6, -0.2, 1.5, 0.8, -0.4, 1.0, 0.2, -0.8, -1.2, 0.6, -1.8, 0.0, -0.8, 0.4, -1.6, -0.6, 0.3, -1.2, 0.4, -0.6, 1.2, 0.2,
        1.0, -0.2, 0.6, 1.4, 0.2, -0.6, 1.0, 0.7, -1.1, 0.4, 1.2, 0.0, 1.5, 0.8, -0.4, 0.6, 1.3, -0.3, 0.9, 1.8, 0.4, 1.0, -0.6, 2.0, 1.2, 0.3, 1.6, -0.2, 0.8, 1.4,
        0.4, 2.0, 1.2, 0.6, 2.4, 0.4, 1.6, -0.2, 1.0, 2.0, 0.2, 1.4, 0.8, -0.6, 1.2, 0.5, 1.8, -0.3, 0.9, 0.4, -0.4, 0.8, 0.0, -0.8, 0.6, -1.4, -0.6, -2.2, -1.8, -2.4]

ic5 = [-0.5, -2.5, 0.3, -1.8, 0.8, -0.4, 1.0, -1.2, 0.5, 1.3, -0.6, 0.2, 0.9, -1.0, 1.4, 3.0, -0.3, 0.6, -1.4, 0.1, 1.1, -0.8, 0.4, -1.5, 0.7, -0.2, 1.2, -1.1, 0.0, 0.8,
       -0.6, 0.9, -1.3, 0.3, 1.2, -0.9, 0.5, -0.2, 1.5, -1.0, 0.8, 2.0, 0.2, -0.5, 1.6, 0.6, 2.0, -0.2, 1.1, 0.4, 1.8, -0.6, 0.9, 2.2, 0.3, 1.3, -0.4, 1.7, 0.7, 2.0,
       1.0, 2.7, 0.3, 1.6, -0.3, 2.2, 1.2, 0.4, 2.0, -0.5, 1.4, 0.6, -0.2, 1.0, 0.3, -1.0, 1.5, 0.7, -0.4, 0.9, 1.8, 0.0, 0.5, -0.8, 1.2, 0.2, -1.2, 0.8, 1.4, -0.3,
       0.3, -1.2, 0.6, -0.5, -1.8, 0.2, -2.8, -0.8, 0.9, -1.5, -3.0, -0.2, 0.5, -1.0, 1.3, 0.1, 0.8, -0.6, 1.6, 0.3, 2.0, -0.4, 1.0, 0.5, -1.1, 1.8, 0.2, 0.9, -0.5, 1.2,
       0.6, -0.8, 1.5, 0.2, -1.3, 1.0, -0.3, 0.7, 1.8, -2.0, 0.4, 1.2, -0.6, 0.9, 0.0, -1.5, 1.4, 0.3, -0.4, 1.0, -1.1, 0.6, 1.6, -0.2, 0.8, -1.3, 0.4, 1.1, -0.7, 0.2,
       -0.3, -1.5, 0.5, -2.5, -0.6, 0.8, -1.8, 0.2, -1.0, -2.4, 0.4, -0.5, -1.6, 0.9, -0.2, -2.6, 0.6, -0.8, 0.3, -1.4, 1.0, 2.5, 0.4, 3.0, 1.5, 0.2, 2.2, 1.0, -0.6, 1.4,
       0.8, 3.5, -0.4, 1.2, -1.0, 0.3, -0.8, 0.6, -1.6, -0.2, 0.9, -1.2, 0.1, -0.6, -1.8, 0.4, -2.5, -0.3, -1.1, 0.5, -2.4, -0.8, 0.2, -1.5, -0.4, 0.7, -2.2, -1.0, 0.3, -1.7,
       -0.5, -2.6, 0.4, -1.2, -0.2, 0.8, -1.8, -0.6, 2.5, -1.0, 0.2, -0.4, 1.0, -1.4, 0.5, -0.2, 1.2, -0.8, 0.3, 1.5, -0.5, 0.7, -1.2, 0.1, 1.3, -0.6, 0.4, 1.0, -0.3, 0.8,
       0.5, -0.6, 0.3, -1.0, 0.8, 1.3, 2.0, 1.2, 2.6, 1.8, 3.6, 2.2, 2.8, 1.5, 2.4, 0.8, 1.6, 0.0, -0.6, 0.7, -1.2, 0.3, -2.0, -0.4, 0.5, -0.9, 0.2, -1.5, -0.3, -1.8,
       0.2, -1.3, 0.7, -0.5, 1.2, -0.2, 0.6, -1.5, 0.9, 0.3, 2.0, -0.6, 1.4, 3.7, 0.5, -2.8, 1.8, -0.3, 0.8, -0.8, 1.2, -0.2, 0.6, -1.5, 0.1, 0.9, -0.7, 0.4, -1.2, 0.3]
ic5b = [0.4, -1.4, -0.8, 0.6, -0.2, 1.2, 0.2, -0.6, 1.0, -0.3, 0.7, 1.4, -0.8, 0.4, 0.8, 1.8, 0.4, -0.6, 0.9, -0.2, 0.5, 1.2, -1.0, 0.3, -0.6, 0.9, 0.2, -0.4, 1.0, -0.9,
        0.5, -0.4, 0.7, -1.0, 0.4, 1.0, -0.3, 1.2, 0.4, -0.5, 1.4, 0.6, 1.0, 1.6, 0.0, 1.2, 0.4, 1.6, 0.8, -0.3, 1.2, 0.6, 1.5, 0.2, 1.0, 1.8, 0.6, 0.2, 1.4, 0.8,
        1.8, 0.6, 2.0, 1.2, 0.4, 1.5, 0.8, 1.8, 0.2, 1.0, -0.2, 1.2, 0.4, 0.9, -0.6, 0.6, 0.2, 1.2, -0.2, 0.5, 1.0, -0.6, 0.8, 0.3, 1.4, -0.4, 0.6, 0.0, 0.9, 0.4,
        -0.3, 0.8, -0.8, -1.4, 0.2, -1.0, -0.4, -2.2, 0.3, -0.6, -1.6, 0.4, -0.5, 0.6, 0.0, 1.0, -0.3, 1.2, 0.4, 1.5, 0.8, 1.2, -0.2, 1.6, 0.6, 0.2, 1.3, 0.5, 1.0, 0.2,
        1.2, 0.3, 0.8, -0.4, 0.6, 1.4, 0.0, -0.8, 0.9, 0.4, -1.2, 0.7, 1.3, 0.2, 0.8, -0.6, 0.5, 1.0, -0.2, 0.4, 1.2, -0.6, 0.8, 0.2, 1.4, 0.0, -0.6, 0.5, 0.9, -0.3,
        0.4, -0.8, -1.2, -0.2, -1.5, 0.2, -0.6, -1.0, 0.3, -1.6, -0.4, 0.6, -1.2, -0.5, -1.8, 0.2, -1.0, -0.3, -2.0, 0.5, 1.6, 1.0, 2.0, 0.8, 2.6, 1.4, 0.6, 1.8, 0.4, 0.9,
        1.6, 0.2, 1.0, 0.4, -0.6, 0.5, -1.2, -0.3, 0.4, -1.0, -0.2, 0.6, -1.4, -0.8, 0.2, -1.6, -0.6, -1.2, 0.3, -1.8, -0.4, 0.4, -1.0, -2.0, -0.8, 0.0, -1.4, -0.4, -2.0, -0.6,
        -1.4, 0.0, -0.8, 0.6, -1.5, -0.2, 0.6, 1.4, -0.4, 0.8, -0.8, 0.5, -0.2, 0.9, -0.6, 0.4, -0.3, 0.8, -1.0, 0.2, 0.9, -0.4, 0.4, 1.0, -0.8, 0.6, -0.2, 0.3, 1.2, -0.4,
        0.0, 0.8, -1.0, 0.4, 1.0, 0.6, 1.6, 2.4, 1.5, 3.0, 2.0, 1.2, 2.4, 2.0, 1.0, 1.8, 0.4, 1.0, -0.3, 0.2, -0.8, -1.4, 0.5, -0.6, -1.2, 0.3, -0.8, -0.2, -1.2, 0.4,
        -0.6, 0.8, -0.4, 1.0, 0.2, -1.0, 1.2, 0.4, -0.4, 1.6, 0.6, 1.0, 2.2, 0.8, -0.4, 1.2, 0.2, -1.0, 0.4, 0.9, -0.5, 0.6, -1.0, 0.3, 1.0, -0.6, 0.5, -1.0, 0.8, -0.4]

pc_labels = ["PC1/mm", "PC2/mm", "PC3/mm", "PC4/mm", "PC5/mm"]
ic_labels = ["IC1/mm", "IC2/mm", "IC3/mm", "IC4/mm", "IC5/mm"]
years = [2008, 2009, 2010, 2011, 2012, 2013]


def epochs(vals, offset):
    # regular sampling over 2008-2013
    m = len(vals)
    return 2008 + (np.arange(m) + offset) * 5.0 / m


W, H = 1289, 456
fig = plt.figure(figsize=(W / 100, H / 100), dpi=100)
serif = ["Liberation Serif", "DejaVu Serif"]
spine_col = "#4a4a4a"

tops = [25, 96, 166, 236, 306]
ph = 62


def make_panel(x0, top, vals, vals_b, label, ylim, yticks, bottom):
    ax = fig.add_axes([x0 / W, 1 - (top + ph) / H, 380 / W, ph / H])
    ax.plot(epochs(vals, 0.25), vals, 'o', ms=2.6, mew=0, color='black')
    ax.plot(epochs(vals_b, 0.75), vals_b, 'o', ms=2.6, mew=0, color='black')
    ax.set_xlim(2008, 2013)
    ax.set_ylim(*ylim)
    ax.set_xticks(years)
    ax.set_yticks(yticks)
    ax.tick_params(direction='in', top=True, right=True, length=3, width=0.8,
                   color=spine_col, labelsize=11)
    ax.tick_params(axis='y', pad=4.5)
    ax.tick_params(axis='x', pad=7)
    for s in ax.spines.values():
        s.set_color(spine_col)
        s.set_linewidth(1.1)
    for lab in ax.get_xticklabels() + ax.get_yticklabels():
        lab.set_fontfamily(serif)
    if bottom:
        ax.set_xlabel("Time/year", fontsize=11, family=serif, labelpad=3)
    else:
        ax.set_xticklabels([])
    ax.set_ylabel(label, fontsize=11, family=serif)
    return ax


pcs = [(pc1, pc1b), (pc2, pc2b), (pc3, pc3b), (pc4, pc4b), (pc5, pc5b)]
ics = [(ic1, ic1b), (ic2, ic2b), (ic3, ic3b), (ic4, ic4b), (ic5, ic5b)]
for i in range(5):
    lim = (-155, 155) if i == 0 else (-30, 30)
    tk = [-100, 0, 100] if i == 0 else [-20, 0, 20]
    ax = make_panel(248, tops[i], pcs[i][0], pcs[i][1], pc_labels[i], lim, tk, i == 4)
    ax.yaxis.set_label_coords(-45 / 380, 0.5)
    ax2 = make_panel(709, tops[i], ics[i][0], ics[i][1], ic_labels[i], (-5, 5), [-4, 0, 4], i == 4)
    ax2.yaxis.set_label_coords(-34 / 380, 0.5)

# caption box
box = FancyBboxPatch((5, 3), 1282, 445, boxstyle="round,pad=0,rounding_size=10",
                     transform=IdentityTransform(), fill=False, lw=1.4, ec="#333333")
fig.add_artist(box)

# caption text, pieces placed one after another
sans = ["Open Sans", "DejaVu Sans"]
pieces = [("Fig. 3", "bold", "normal", 5), ("Five components extracted by PCA (", "normal", "normal", 0),
          ("left", "normal", "italic", 0), (") and ICA (", "normal", "normal", 0),
          ("right", "normal", "italic", 0), (") in the UK", "normal", "normal", 0)]
fig.canvas.draw()
renderer = fig.canvas.get_renderer()
x = 10
for txt, wt, st, gap in pieces:
    tt = fig.text(x / W, 1 - 439 / H, txt, fontsize=12.5, family=sans, weight=wt, style=st,
                  color="#231f20", va="center", ha="left")
    bb = tt.get_window_extent(renderer)
    x = bb.x1 + gap

fig.savefig("out.png", dpi=100)
